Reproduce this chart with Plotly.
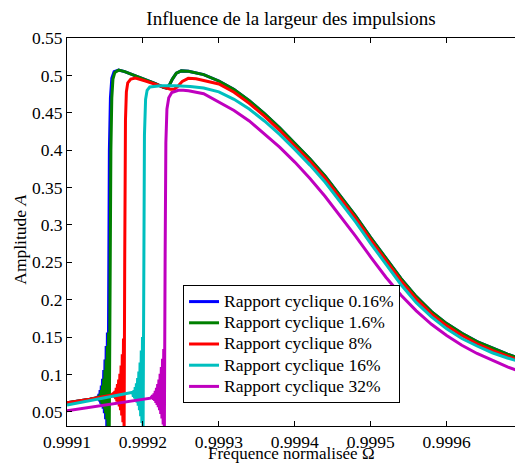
import plotly.graph_objects as go

# Frequency response (normalised frequency vs amplitude) for several duty cycles.
# Each series: slowly rising low branch, ringing before the jump, upper branch.

freq_016 = [0.999100, 0.999110, 0.999120, 0.999130, 0.999138,
            0.9991404, 0.9991412, 0.9991420, 0.9991428, 0.9991436, 0.9991444,
            0.9991452, 0.9991460, 0.9991468, 0.9991476, 0.9991484, 0.9991492,
            0.9991500, 0.9991508, 0.9991516, 0.9991524, 0.9991532, 0.9991540,
            0.9991548, 0.9991558, 0.9991572, 0.9991590, 0.9991620, 0.9991680,
            0.9991760, 0.9991969, 0.9992165, 0.9992270, 0.9992309,
            0.9992348, 0.9992388, 0.9992440, 0.9992505,
            0.99926, 0.99928, 0.99930, 0.99932, 0.99934, 0.99936, 0.99938,
            0.99940, 0.99942, 0.99944, 0.99946, 0.99948, 0.99950, 0.99952,
            0.99954, 0.99956, 0.99958, 0.99960, 0.99962, 0.99964, 0.99966,
            0.99968, 0.99970]
amp_016 = [0.0620, 0.0634, 0.0650, 0.0668, 0.0685,
           0.0700, 0.0660, 0.0740, 0.0640, 0.0790, 0.0610,
           0.0850, 0.0580, 0.0940, 0.0540, 0.1060, 0.0480,
           0.1200, 0.0400, 0.1380, 0.0300, 0.1560, 0.0200,
           0.2000, 0.4000, 0.4700, 0.4960, 0.5050, 0.5070,
           0.5050, 0.4970, 0.4890, 0.4840, 0.4830,
           0.4870, 0.4950, 0.5030, 0.5060,
           0.5055, 0.5010, 0.4925, 0.4810, 0.4660, 0.4490, 0.4300,
           0.4090, 0.3880, 0.3650, 0.3390, 0.3120, 0.2830, 0.2550,
           0.2280, 0.2040, 0.1840, 0.1680, 0.1550, 0.1440, 0.1350,
           0.1270, 0.1200]

freq_16 = [0.999100, 0.999110, 0.999120, 0.999130, 0.999138,
           0.9991420, 0.9991428, 0.9991436, 0.9991444, 0.9991452, 0.9991460,
           0.9991468, 0.9991476, 0.9991484, 0.9991492, 0.9991500, 0.9991508,
           0.9991516, 0.9991524, 0.9991532, 0.9991540, 0.9991548, 0.9991556,
           0.9991564, 0.9991578, 0.9991590, 0.9991605, 0.9991630, 0.9991680,
           0.9991760, 0.9991969, 0.9992165, 0.9992270, 0.9992309,
           0.9992348, 0.9992388, 0.9992440, 0.9992505,
           0.99926, 0.99928, 0.99930, 0.99932, 0.99934, 0.99936, 0.99938,
           0.99940, 0.99942, 0.99944, 0.99946, 0.99948, 0.99950, 0.99952,
           0.99954, 0.99956, 0.99958, 0.99960, 0.99962, 0.99964, 0.99966,
           0.99968, 0.99970]
amp_16 = [0.0620, 0.0634, 0.0650, 0.0668, 0.0685,
          0.0700, 0.0660, 0.0740, 0.0640, 0.0790, 0.0610,
          0.0850, 0.0580, 0.0940, 0.0540, 0.1060, 0.0480,
          0.1200, 0.0400, 0.1380, 0.0300, 0.1560, 0.0200,
          0.2000, 0.4000, 0.4700, 0.4950, 0.5040, 0.5070,
          0.5050, 0.4970, 0.4890, 0.4840, 0.4830,
          0.4870, 0.4950, 0.5030, 0.5060,
          0.5055, 0.5010, 0.4925, 0.4810, 0.4660, 0.4490, 0.4300,
          0.4090, 0.3880, 0.3650, 0.3390, 0.3120, 0.2830, 0.2550,
          0.2280, 0.2040, 0.1840, 0.1680, 0.1550, 0.1440, 0.1350,
          0.1270, 0.1200]

freq_8 = [0.999100, 0.999110, 0.999120, 0.999130, 0.999140, 0.999150, 0.999158,
          0.9991616, 0.9991624, 0.9991632, 0.9991640, 0.9991648, 0.9991656,
          0.9991664, 0.9991672, 0.9991680, 0.9991688, 0.9991696, 0.9991704,
          0.9991712, 0.9991720, 0.9991728, 0.9991736, 0.9991744, 0.9991752,
          0.9991760, 0.9991770, 0.9991782, 0.9991800, 0.9991840, 0.9991903,
          0.9992034, 0.9992230, 0.9992361, 0.9992414, 0.9992466, 0.9992518,
          0.9992597, 0.99927, 0.99928,
          0.99930, 0.99932, 0.99934, 0.99936, 0.99938,
          0.99940, 0.99942, 0.99944, 0.99946, 0.99948, 0.99950, 0.99952,
          0.99954, 0.99956, 0.99958, 0.99960, 0.99962, 0.99964, 0.99966,
          0.99968, 0.99970]
amp_8 = [0.0620, 0.0634, 0.0650, 0.0668, 0.0688, 0.0708, 0.0722,
         0.0750, 0.0690, 0.0780, 0.0670, 0.0820, 0.0640,
         0.0870, 0.0610, 0.0930, 0.0570, 0.1010, 0.0520,
         0.1120, 0.0450, 0.1270, 0.0360, 0.1480, 0.0200,
         0.2500, 0.4400, 0.4780, 0.4900, 0.4950, 0.4965,
         0.4925, 0.4855, 0.4815, 0.4815, 0.4860, 0.4920,
         0.4960, 0.4955, 0.4935,
         0.4885, 0.4775, 0.4625, 0.4455, 0.4265,
         0.4055, 0.3850, 0.3620, 0.3360, 0.3090, 0.2800, 0.2520,
         0.2250, 0.2010, 0.1810, 0.1650, 0.1520, 0.1410, 0.1320,
         0.1245, 0.1175]

freq_16b = [0.999100, 0.999110, 0.999120, 0.999130, 0.999140, 0.999150,
            0.999160, 0.999170, 0.999180,
            0.9991866, 0.9991874, 0.9991882, 0.9991890, 0.9991898, 0.9991906,
            0.9991914, 0.9991922, 0.9991930, 0.9991938, 0.9991946, 0.9991954,
            0.9991962, 0.9991970, 0.9991978, 0.9991986, 0.9991994, 0.9992002,
            0.9992010, 0.9992020, 0.9992035, 0.9992055, 0.9992090, 0.9992230,
            0.9992427, 0.9992623, 0.99928,
            0.99930, 0.99932, 0.99934, 0.99936, 0.99938,
            0.99940, 0.99942, 0.99944, 0.99946, 0.99948, 0.99950, 0.99952,
            0.99954, 0.99956, 0.99958, 0.99960, 0.99962, 0.99964, 0.99966,
            0.99968, 0.99970]
amp_16b = [0.0590, 0.0608, 0.0627, 0.0647, 0.0667, 0.0688,
           0.0708, 0.0728, 0.0745,
           0.0760, 0.0700, 0.0790, 0.0680, 0.0830, 0.0650,
           0.0880, 0.0620, 0.0950, 0.0580, 0.1040, 0.0520,
           0.1160, 0.0440, 0.1320, 0.0350, 0.1500, 0.0200,
           0.2500, 0.4200, 0.4680, 0.4800, 0.4845, 0.4860,
           0.4860, 0.4850, 0.4830,
           0.4780, 0.4680, 0.4550, 0.4390, 0.4210,
           0.4010, 0.3800, 0.3570, 0.3310, 0.3040, 0.2750, 0.2470,
           0.2200, 0.1960, 0.1770, 0.1610, 0.1480, 0.1380, 0.1290,
           0.1220, 0.1160]

freq_32 = [0.999100, 0.999120, 0.999140, 0.999160, 0.999180, 0.999200, 0.999210,
           0.9992130, 0.9992138, 0.9992146, 0.9992154, 0.9992162, 0.9992170,
           0.9992178, 0.9992186, 0.9992194, 0.9992202, 0.9992210, 0.9992218,
           0.9992226, 0.9992234, 0.9992242, 0.9992250, 0.9992258, 0.9992266,
           0.9992274, 0.9992282, 0.9992292, 0.9992302, 0.9992316, 0.9992340,
           0.9992380, 0.9992466, 0.9992531, 0.99926, 0.99928,
           0.99930, 0.99932, 0.99934, 0.99936, 0.99938,
           0.99940, 0.99942, 0.99944, 0.99946, 0.99948, 0.99950, 0.99952,
           0.99954, 0.99956, 0.99958, 0.99960, 0.99962, 0.99964, 0.99966,
           0.99968, 0.99970]
amp_32 = [0.0513, 0.0543, 0.0574, 0.0605, 0.0636, 0.0667, 0.0683,
          0.0720, 0.0660, 0.0745, 0.0645, 0.0780, 0.0620,
          0.0820, 0.0590, 0.0870, 0.0560, 0.0930, 0.0520,
          0.1010, 0.0470, 0.1100, 0.0410, 0.1210, 0.0330,
          0.1340, 0.0200, 0.2500, 0.4100, 0.4550, 0.4700,
          0.4770, 0.4800, 0.4802, 0.4795, 0.4755,
          0.4640, 0.4530, 0.4390, 0.4220, 0.4040,
          0.3840, 0.3620, 0.3380, 0.3120, 0.2850, 0.2570, 0.2300,
          0.2060, 0.1850, 0.1670, 0.1520, 0.1390, 0.1280, 0.1190,
          0.1100, 0.1030]

series_names = ["Rapport cyclique 0.16%", "Rapport cyclique 1.6%",
                "Rapport cyclique 8%", "Rapport cyclique 16%",
                "Rapport cyclique 32%"]
series_colors = ["#0000ff", "#008000", "#ff0000", "#00bfbf", "#bf00bf"]

x_ticks = [0.9991, 0.9992, 0.9993, 0.9994, 0.9995, 0.9996]
x_tick_text = ["0.9991", "0.9992", "0.9993", "0.9994", "0.9995", "0.9996"]
y_ticks = [0.05, 0.1, 0.15, 0.2, 0.25, 0.3, 0.35, 0.4, 0.45, 0.5, 0.55]
y_tick_text = ["0.05", "0.1", "0.15", "0.2", "0.25", "0.3", "0.35", "0.4",
               "0.45", "0.5", "0.55"]

FONT = "Liberation Serif"

xs = [freq_016, freq_16, freq_8, freq_16b, freq_32]
ys = [amp_016, amp_16, amp_8, amp_16b, amp_32]

fig = go.Figure()
for x, y, name, color in zip(xs, ys, series_names, series_colors):
    fig.add_trace(go.Scatter(
        x=x, y=y, mode="lines",
        # legend text drawn larger than the legend font, which sets row spacing
        name=f'<span style="font-size:17.5px">{name}</span>',
        line=dict(color=color, width=3)))

fig.update_layout(
    width=515, height=463,
    margin=dict(l=67, r=0, t=38, b=37),
    paper_bgcolor="white", plot_bgcolor="white",
    font=dict(family=FONT, size=17, color="black"),
    title=dict(text="Influence de la largeur des impulsions",
               x=0.5, xref="paper", xanchor="center",
               y=1 - 18 / 463, yref="container", yanchor="middle",
               font=dict(family=FONT, size=19, color="black")),
    showlegend=True,
    legend=dict(x=0.259, y=0.3634, xanchor="left", yanchor="top",
                bgcolor="white", bordercolor="black", borderwidth=1,
                font=dict(family=FONT, size=14, color="black"),
                itemwidth=30, tracegroupgap=0),
    xaxis=dict(range=[0.9991, 0.99969], tickvals=x_ticks, ticktext=x_tick_text,
               ticks="inside", ticklen=5, tickcolor="black",
               tickfont=dict(family=FONT, size=17.5, color="black"),
               showline=True, linecolor="black", linewidth=1, mirror="ticks",
               showgrid=False, zeroline=False),
    yaxis=dict(range=[0.031, 0.55], tickvals=y_ticks, ticktext=y_tick_text,
               ticks="inside", ticklen=5, tickcolor="black",
               tickfont=dict(family=FONT, size=17.5, color="black"),
               showline=True, linecolor="black", linewidth=1,
               showgrid=False, zeroline=False),
    annotations=[
        dict(text="Fréquence normalisée Ω", xref="paper", yref="paper",
             x=0.5, y=0, yshift=-27, xanchor="center", yanchor="middle",
             showarrow=False, font=dict(family=FONT, size=17, color="black")),
        dict(text="Amplitude <i>A</i>", xref="paper", yref="paper",
             x=0, xshift=-47, y=0.48, xanchor="center", yanchor="middle",
             textangle=-90, showarrow=False,
             font=dict(family=FONT, size=17.5, color="black")),
    ],
)

fig.write_html("out.html")
